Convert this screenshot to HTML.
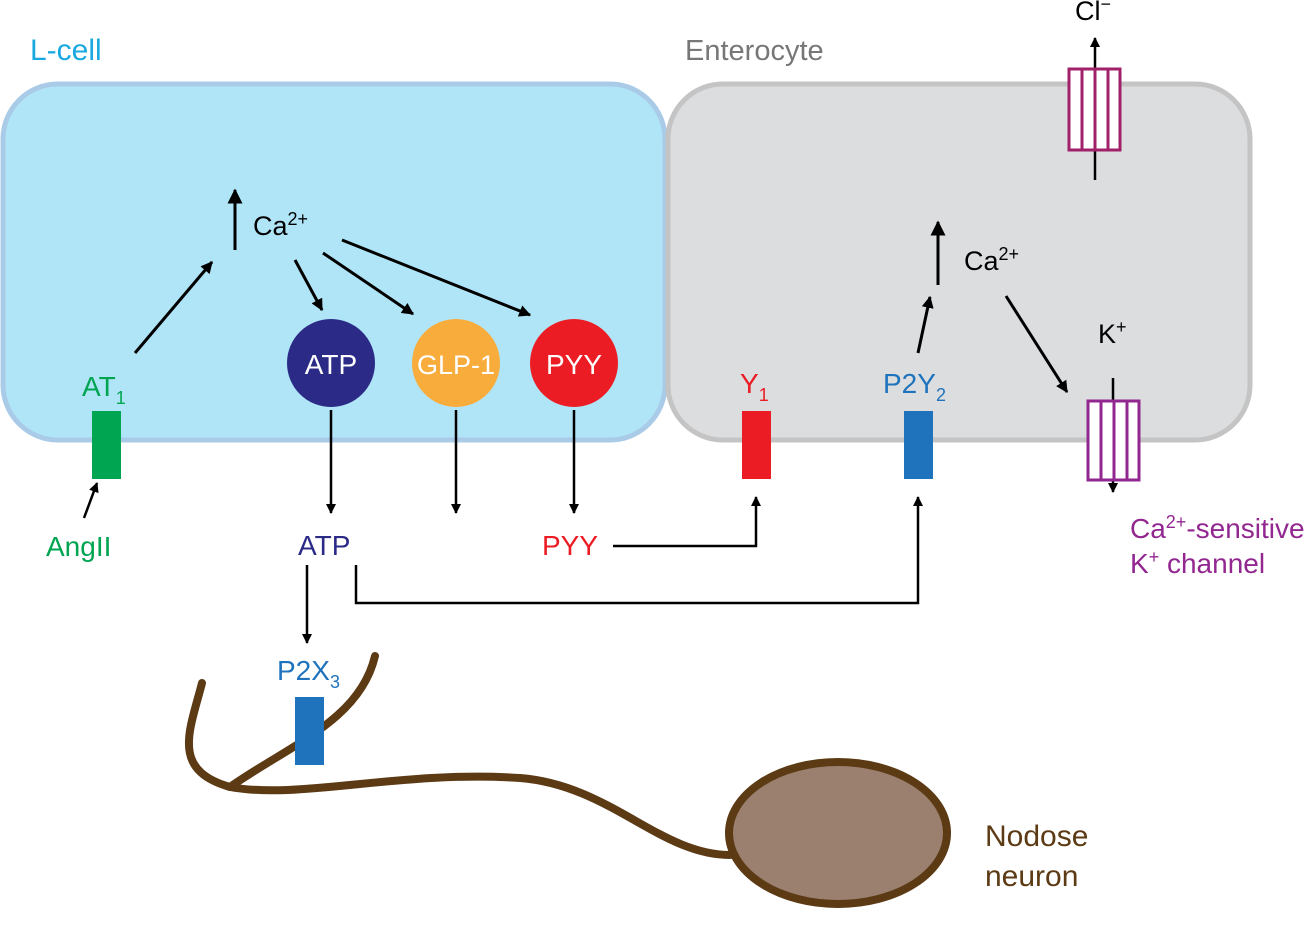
<!DOCTYPE html>
<html><head><meta charset="utf-8"><style>body{margin:0;background:#fff}svg{display:block}text{font-family:"Liberation Sans",Arial,sans-serif}</style></head><body>
<svg width="1313" height="936" viewBox="0 0 1313 936" xmlns="http://www.w3.org/2000/svg">
<defs>
<marker id="a" viewBox="0 0 10 10" refX="9" refY="5" markerWidth="5" markerHeight="5" orient="auto"><path d="M0,0L10,5L0,10z" fill="#000"/></marker>
<marker id="b" viewBox="0 0 10 10" refX="9" refY="5" markerWidth="4" markerHeight="4" orient="auto"><path d="M0,0L10,5L0,10z" fill="#000"/></marker>
</defs>
<rect x="3" y="84" width="662" height="356" rx="55" fill="#b0e5f7" stroke="#a9cbe8" stroke-width="5"/>
<rect x="668" y="84" width="582" height="356" rx="55" fill="#dcdddf" stroke="#c4c4c4" stroke-width="5"/>
<text x="30" y="60" font-size="30" fill="#1aa8e0">L-cell</text>
<text x="685" y="60" font-size="29" fill="#777">Enterocyte</text>
<!-- L-cell arrows -->
<line x1="235" y1="250" x2="235" y2="190" stroke="#000" stroke-width="3" marker-end="url(#a)"/>
<text x="253" y="235" font-size="27">Ca<tspan font-size="18" dy="-10">2+</tspan></text>
<line x1="135" y1="353" x2="212" y2="262" stroke="#000" stroke-width="3" marker-end="url(#b)"/>
<line x1="295" y1="260" x2="322" y2="310" stroke="#000" stroke-width="3" marker-end="url(#b)"/>
<line x1="323" y1="253" x2="413" y2="314" stroke="#000" stroke-width="3" marker-end="url(#b)"/>
<line x1="342" y1="240" x2="530" y2="315" stroke="#000" stroke-width="3" marker-end="url(#b)"/>
<circle cx="331" cy="363" r="44" fill="#2b2a86"/>
<circle cx="456" cy="363" r="44" fill="#f8ac3c"/>
<circle cx="574" cy="363" r="44" fill="#ec1c24"/>
<text x="331" y="374" font-size="28" fill="#fff" text-anchor="middle">ATP</text>
<text x="456" y="374" font-size="27" fill="#fff" text-anchor="middle">GLP-1</text>
<text x="574" y="374" font-size="28" fill="#fff" text-anchor="middle">PYY</text>
<line x1="331" y1="410" x2="331" y2="513" stroke="#000" stroke-width="2.5" marker-end="url(#b)"/>
<line x1="456" y1="410" x2="456" y2="513" stroke="#000" stroke-width="2.5" marker-end="url(#b)"/>
<line x1="574" y1="410" x2="574" y2="513" stroke="#000" stroke-width="2.5" marker-end="url(#b)"/>
<text x="82" y="396" font-size="28" fill="#00a551">AT<tspan font-size="18" dy="8">1</tspan></text>
<rect x="92" y="411" width="29" height="68" fill="#00a551"/>
<line x1="84" y1="518" x2="97" y2="483" stroke="#000" stroke-width="2.5" marker-end="url(#b)"/>
<text x="46" y="556" font-size="28" fill="#00a551">AngII</text>
<text x="298" y="555" font-size="28" fill="#2b2a86">ATP</text>
<text x="542" y="555" font-size="28" fill="#ec1c24">PYY</text>
<!-- Y1, P2Y2 -->
<text x="740" y="393" font-size="28" fill="#ec1c24">Y<tspan font-size="18" dy="8">1</tspan></text>
<rect x="742" y="411" width="29" height="68" fill="#ec1c24"/>
<text x="883" y="393" font-size="28" fill="#1f73bc">P2Y<tspan font-size="18" dy="8">2</tspan></text>
<rect x="904" y="411" width="29" height="68" fill="#1f73bc"/>
<polyline points="613,546 756,546 756,497" fill="none" stroke="#000" stroke-width="2.5" marker-end="url(#b)"/>
<polyline points="356,565 356,603 918,603 918,497" fill="none" stroke="#000" stroke-width="2.5" marker-end="url(#b)"/>
<line x1="307" y1="565" x2="307" y2="643" stroke="#000" stroke-width="2.5" marker-end="url(#b)"/>
<!-- Enterocyte -->
<line x1="918" y1="353" x2="930" y2="297" stroke="#000" stroke-width="3" marker-end="url(#b)"/>
<line x1="938" y1="285" x2="938" y2="222" stroke="#000" stroke-width="3" marker-end="url(#a)"/>
<text x="964" y="270" font-size="27">Ca<tspan font-size="18" dy="-10">2+</tspan></text>
<line x1="1006" y1="296" x2="1067" y2="392" stroke="#000" stroke-width="3" marker-end="url(#b)"/>
<text x="1098" y="343" font-size="27">K<tspan font-size="18" dy="-10">+</tspan></text>
<text x="1075" y="20" font-size="27">Cl<tspan font-size="18" dy="-10">−</tspan></text>
<line x1="1095" y1="180" x2="1095" y2="38" stroke="#000" stroke-width="2.5" marker-end="url(#b)"/>
<rect x="1069" y="69" width="51" height="81" fill="#fff" stroke="#a0206a" stroke-width="3"/>
<path d="M1082 69V150M1095 69V150M1108 69V150" stroke="#a0206a" stroke-width="3"/>
<line x1="1113" y1="378" x2="1113" y2="492" stroke="#000" stroke-width="2.5" marker-end="url(#b)"/>
<rect x="1088" y="401" width="51" height="79" fill="#fff" stroke="#922790" stroke-width="3"/>
<path d="M1101 401V480M1114 401V480M1127 401V480" stroke="#922790" stroke-width="3"/>
<text x="1130" y="538" font-size="28" fill="#922790">Ca<tspan font-size="18" dy="-10">2+</tspan><tspan dy="10">-sensitive</tspan></text>
<text x="1130" y="573" font-size="28" fill="#922790">K<tspan font-size="18" dy="-10">+</tspan><tspan dy="10"> channel</tspan></text>
<!-- neuron -->
<path d="M202,683 C190,730 170,770 230,787" fill="none" stroke="#5b3a14" stroke-width="8" stroke-linecap="round"/>
<path d="M375,656 C360,720 290,745 230,787" fill="none" stroke="#5b3a14" stroke-width="8" stroke-linecap="round"/>
<rect x="295" y="697" width="29" height="68" fill="#1f73bc"/>
<path d="M230,787 C300,800 400,770 520,778 C610,785 660,855 730,855" fill="none" stroke="#5b3a14" stroke-width="8" stroke-linecap="round"/>
<text x="277" y="680" font-size="28" fill="#1f73bc">P2X<tspan font-size="18" dy="8">3</tspan></text>
<ellipse cx="838" cy="833" rx="109" ry="71" fill="#9b8070" stroke="#5b3a14" stroke-width="8"/>
<text x="985" y="846" font-size="30" fill="#5b3a14">Nodose</text>
<text x="985" y="886" font-size="30" fill="#5b3a14">neuron</text>
</svg>
</body></html>
